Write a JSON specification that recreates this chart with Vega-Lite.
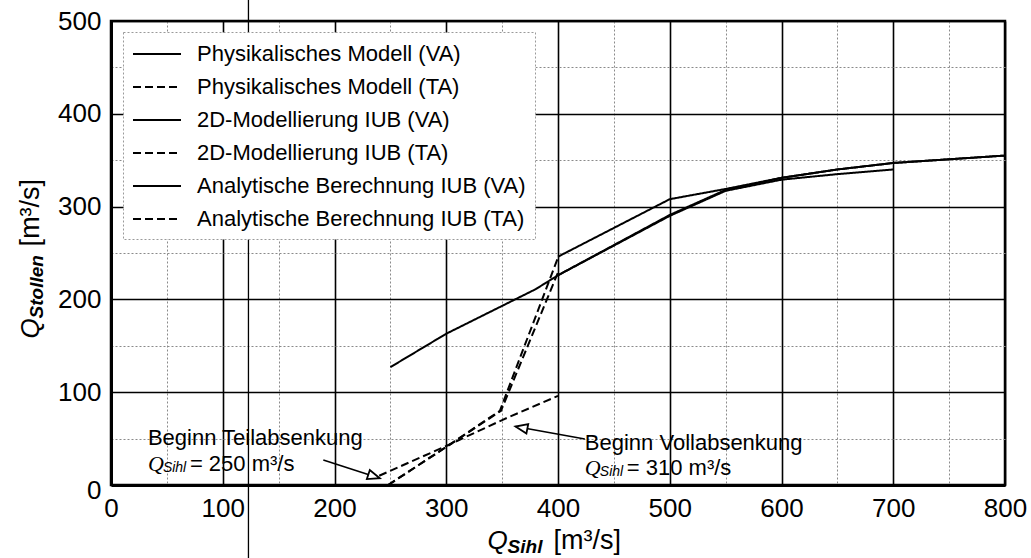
{
  "$schema": "https://vega.github.io/schema/vega-lite/v6.json",
  "width": 894,
  "height": 464,
  "autosize": "none",
  "padding": {"left": 111, "top": 21, "right": 26, "bottom": 73},
  "background": "white",
  "config": {
    "font": "Liberation Sans",
    "view": {"stroke": "black", "strokeWidth": 2.5},
    "axis": {
      "ticks": false,
      "domainColor": "black",
      "domainWidth": 3,
      "labelColor": "black",
      "labelFont": "Liberation Sans",
      "labelFontSize": 26,
      "labelOverlap": false,
      "labelFlush": false,
      "grid": true,
      "gridColor": {"condition": {"test": "datum.value % 100 === 0", "value": "#000000"}, "value": "#8a8a8a"},
      "gridDash": {"condition": {"test": "datum.value % 100 === 0", "value": [1, 0]}, "value": [2, 2]},
      "gridWidth": {"condition": {"test": "datum.value % 100 === 0", "value": 1.6}, "value": 1},
      "labelExpr": "datum.value % 100 === 0 ? datum.label : ''"
    }
  },
  "datasets": {
    "curves": [
      {"series": "Physikalisches Modell (VA)", "x": 250, "y": 127},
      {"series": "Physikalisches Modell (VA)", "x": 300, "y": 163},
      {"series": "Physikalisches Modell (VA)", "x": 350, "y": 193},
      {"series": "Physikalisches Modell (VA)", "x": 380, "y": 211},
      {"series": "Physikalisches Modell (VA)", "x": 400, "y": 226},
      {"series": "Physikalisches Modell (VA)", "x": 500, "y": 290},
      {"series": "Physikalisches Modell (VA)", "x": 550, "y": 317},
      {"series": "Physikalisches Modell (VA)", "x": 600, "y": 329},
      {"series": "Physikalisches Modell (VA)", "x": 650, "y": 335},
      {"series": "Physikalisches Modell (VA)", "x": 700, "y": 340},
      {"series": "Physikalisches Modell (TA)", "x": 248, "y": 0},
      {"series": "Physikalisches Modell (TA)", "x": 300, "y": 41},
      {"series": "Physikalisches Modell (TA)", "x": 349, "y": 80},
      {"series": "Physikalisches Modell (TA)", "x": 400, "y": 229},
      {"series": "2D-Modellierung IUB (VA)", "x": 400, "y": 226},
      {"series": "2D-Modellierung IUB (VA)", "x": 500, "y": 291},
      {"series": "2D-Modellierung IUB (VA)", "x": 550, "y": 318},
      {"series": "2D-Modellierung IUB (VA)", "x": 600, "y": 331},
      {"series": "2D-Modellierung IUB (VA)", "x": 650, "y": 340},
      {"series": "2D-Modellierung IUB (VA)", "x": 700, "y": 347},
      {"series": "2D-Modellierung IUB (VA)", "x": 750, "y": 351},
      {"series": "2D-Modellierung IUB (VA)", "x": 800, "y": 355},
      {"series": "2D-Modellierung IUB (TA)", "x": 248, "y": 0},
      {"series": "2D-Modellierung IUB (TA)", "x": 300, "y": 41},
      {"series": "2D-Modellierung IUB (TA)", "x": 348, "y": 80},
      {"series": "2D-Modellierung IUB (TA)", "x": 400, "y": 245},
      {"series": "Analytische Berechnung IUB (VA)", "x": 400, "y": 246},
      {"series": "Analytische Berechnung IUB (VA)", "x": 500, "y": 308},
      {"series": "Analytische Berechnung IUB (VA)", "x": 550, "y": 319},
      {"series": "Analytische Berechnung IUB (VA)", "x": 600, "y": 331},
      {"series": "Analytische Berechnung IUB (VA)", "x": 650, "y": 340},
      {"series": "Analytische Berechnung IUB (VA)", "x": 700, "y": 347},
      {"series": "Analytische Berechnung IUB (VA)", "x": 750, "y": 351},
      {"series": "Analytische Berechnung IUB (VA)", "x": 800, "y": 355},
      {"series": "Analytische Berechnung IUB (TA)", "x": 240, "y": 10},
      {"series": "Analytische Berechnung IUB (TA)", "x": 300, "y": 42},
      {"series": "Analytische Berechnung IUB (TA)", "x": 350, "y": 70},
      {"series": "Analytische Berechnung IUB (TA)", "x": 400, "y": 96}
    ],
    "notes": [
      {"kind": "main", "x": 33, "y": 50.6, "text": "Beginn Teilabsenkung"},
      {"kind": "q", "x": 33, "y": 22.6, "text": "Q"},
      {"kind": "sub", "x": 33, "y": 22.6, "text": "Sihl"},
      {"kind": "rest", "x": 33, "y": 22.6, "text": "= 250 m³/s"},
      {"kind": "main", "x": 424, "y": 45.3, "text": "Beginn Vollabsenkung"},
      {"kind": "q", "x": 424, "y": 18.3, "text": "Q"},
      {"kind": "sub", "x": 424, "y": 18.3, "text": "Sihl"},
      {"kind": "rest", "x": 424, "y": 18.3, "text": "= 310 m³/s"}
    ],
    "xtitle": [
      {"kind": "q", "x": 337, "y": -60, "text": "Q"},
      {"kind": "sub", "x": 337, "y": -60, "text": "Sihl"},
      {"kind": "rest", "x": 337, "y": -60, "text": "[m³/s]"}
    ],
    "ytitle": [
      {"kind": "q", "x": -72, "y": 158, "text": "Q"},
      {"kind": "sub", "x": -72, "y": 158, "text": "Stollen"},
      {"kind": "rest", "x": -72, "y": 158, "text": "[m³/s]"}
    ],
    "arrows": [
      {"arrow": "teil", "x": 190, "y": 27, "x2": 240.5, "y2": 7.3},
      {"arrow": "voll", "x": 424, "y": 49.6, "x2": 362, "y2": 63}
    ],
    "scanline": [
      {"x": 123, "y": -80, "y2": 525}
    ]
  },
  "layer": [
    {
      "data": {"name": "curves"},
      "mark": {"type": "line", "strokeWidth": 2, "clip": true},
      "encoding": {
        "x": {"field": "x", "type": "quantitative",
              "scale": {"domain": [0, 800], "nice": false, "zero": false},
              "axis": {"values": [0,50,100,150,200,250,300,350,400,450,500,550,600,650,700,750,800],
                       "title": null, "labelPadding": 10}},
        "y": {"field": "y", "type": "quantitative",
              "scale": {"domain": [0, 500], "nice": false, "zero": false},
              "axis": {"values": [0,50,100,150,200,250,300,350,400,450,500],
                       "title": null, "labelPadding": 10,
                       "labelOffset": {"condition": {"test": "datum.value === 0", "value": 5}, "value": 0}}},
        "color": {"field": "series", "type": "nominal",
                  "scale": {"domain": ["Physikalisches Modell (VA)", "Physikalisches Modell (TA)", "2D-Modellierung IUB (VA)", "2D-Modellierung IUB (TA)", "Analytische Berechnung IUB (VA)", "Analytische Berechnung IUB (TA)"],
                            "range": ["#000000", "#000000", "#000000", "#000000", "#000000", "#000000"]},
                  "legend": {"orient": "none", "legendX": 12, "legendY": 11, "title": null,
                             "fillColor": "white", "strokeColor": "#9a9a9a", "padding": 9,
                             "symbolType": "M-1,0H3", "symbolSize": 576, "symbolStrokeWidth": 2,
                             "labelFont": "Liberation Sans", "labelFontSize": 22, "labelColor": "black",
                             "labelOffset": 39, "rowPadding": 9, "labelLimit": 600,
                             "encode": {"legend": {"update": {"strokeDash": {"value": [2, 2]}}}}}},
        "strokeDash": {"field": "series", "type": "nominal",
                       "scale": {"domain": ["Physikalisches Modell (VA)", "Physikalisches Modell (TA)", "2D-Modellierung IUB (VA)", "2D-Modellierung IUB (TA)", "Analytische Berechnung IUB (VA)", "Analytische Berechnung IUB (TA)"],
                                 "range": [[1, 0], [8, 4], [1, 0], [8, 4], [1, 0], [8, 4]]},
                       "legend": {"orient": "none", "legendX": 12, "legendY": 11, "title": null,
                             "fillColor": "white", "strokeColor": "#9a9a9a", "padding": 9,
                             "symbolType": "M-1,0H3", "symbolSize": 576, "symbolStrokeWidth": 2,
                             "labelFont": "Liberation Sans", "labelFontSize": 22, "labelColor": "black",
                             "labelOffset": 39, "rowPadding": 9, "labelLimit": 600,
                             "encode": {"legend": {"update": {"strokeDash": {"value": [2, 2]}}}}}}
      }
    },
    {
      "data": {"name": "arrows"},
      "mark": {"type": "rule", "strokeWidth": 1.6, "color": "black"},
      "encoding": {
        "x": {"field": "x", "type": "quantitative"},
        "y": {"field": "y", "type": "quantitative"},
        "x2": {"field": "x2"},
        "y2": {"field": "y2"}
      }
    },
    {
      "data": {"name": "arrows"},
      "transform": [{"filter": "datum.arrow === 'teil'"}],
      "mark": {"type": "point", "shape": "M0,0L-2,-0.8L-2,0.8Z", "size": 144, "angle": 18, "filled": true, "fill": "white", "stroke": "black", "strokeWidth": 1.8, "opacity": 1},
      "encoding": {
        "x": {"field": "x2", "type": "quantitative"},
        "y": {"field": "y2", "type": "quantitative"}
      }
    },
    {
      "data": {"name": "arrows"},
      "transform": [{"filter": "datum.arrow === 'voll'"}],
      "mark": {"type": "point", "shape": "M0,0L-2,-0.8L-2,0.8Z", "size": 144, "angle": 191, "filled": true, "fill": "white", "stroke": "black", "strokeWidth": 1.8, "opacity": 1},
      "encoding": {
        "x": {"field": "x2", "type": "quantitative"},
        "y": {"field": "y2", "type": "quantitative"}
      }
    },
    {
      "data": {"name": "notes"},
      "transform": [{"filter": "datum.kind === 'main'"}],
      "mark": {"type": "text", "align": "left", "baseline": "middle", "font": "Liberation Sans", "fontSize": 22, "color": "black"},
      "encoding": {
        "x": {"field": "x", "type": "quantitative"},
        "y": {"field": "y", "type": "quantitative"},
        "text": {"field": "text"}
      }
    },
    {
      "data": {"name": "notes"},
      "transform": [{"filter": "datum.kind === 'q'"}],
      "mark": {"type": "text", "align": "left", "baseline": "middle", "font": "Liberation Serif", "fontStyle": "italic", "fontSize": 22, "color": "black"},
      "encoding": {
        "x": {"field": "x", "type": "quantitative"},
        "y": {"field": "y", "type": "quantitative"},
        "text": {"field": "text"}
      }
    },
    {
      "data": {"name": "notes"},
      "transform": [{"filter": "datum.kind === 'sub'"}],
      "mark": {"type": "text", "align": "left", "baseline": "middle", "dx": 15, "dy": 4, "font": "Liberation Sans", "fontStyle": "italic", "fontSize": 14, "color": "black"},
      "encoding": {
        "x": {"field": "x", "type": "quantitative"},
        "y": {"field": "y", "type": "quantitative"},
        "text": {"field": "text"}
      }
    },
    {
      "data": {"name": "notes"},
      "transform": [{"filter": "datum.kind === 'rest'"}],
      "mark": {"type": "text", "align": "left", "baseline": "middle", "dx": 42, "font": "Liberation Sans", "fontSize": 22, "color": "black"},
      "encoding": {
        "x": {"field": "x", "type": "quantitative"},
        "y": {"field": "y", "type": "quantitative"},
        "text": {"field": "text"}
      }
    },
    {
      "data": {"name": "xtitle"},
      "transform": [{"filter": "datum.kind === 'q'"}],
      "mark": {"type": "text", "align": "left", "baseline": "middle", "font": "Liberation Sans", "fontStyle": "italic", "fontSize": 26, "color": "black"},
      "encoding": {
        "x": {"field": "x", "type": "quantitative"},
        "y": {"field": "y", "type": "quantitative"},
        "text": {"field": "text"}
      }
    },
    {
      "data": {"name": "xtitle"},
      "transform": [{"filter": "datum.kind === 'sub'"}],
      "mark": {"type": "text", "align": "left", "baseline": "middle", "dx": 20, "dy": 6, "font": "Liberation Sans", "fontStyle": "italic", "fontWeight": "bold", "fontSize": 19, "color": "black"},
      "encoding": {
        "x": {"field": "x", "type": "quantitative"},
        "y": {"field": "y", "type": "quantitative"},
        "text": {"field": "text"}
      }
    },
    {
      "data": {"name": "xtitle"},
      "transform": [{"filter": "datum.kind === 'rest'"}],
      "mark": {"type": "text", "align": "left", "baseline": "middle", "dx": 66, "font": "Liberation Sans", "fontSize": 27, "color": "black"},
      "encoding": {
        "x": {"field": "x", "type": "quantitative"},
        "y": {"field": "y", "type": "quantitative"},
        "text": {"field": "text"}
      }
    },
    {
      "data": {"name": "ytitle"},
      "transform": [{"filter": "datum.kind === 'q'"}],
      "mark": {"type": "text", "align": "left", "baseline": "middle", "angle": 270, "font": "Liberation Sans", "fontStyle": "italic", "fontSize": 26, "color": "black"},
      "encoding": {
        "x": {"field": "x", "type": "quantitative"},
        "y": {"field": "y", "type": "quantitative"},
        "text": {"field": "text"}
      }
    },
    {
      "data": {"name": "ytitle"},
      "transform": [{"filter": "datum.kind === 'sub'"}],
      "mark": {"type": "text", "align": "left", "baseline": "middle", "angle": 270, "dx": 20, "dy": 6, "font": "Liberation Sans", "fontStyle": "italic", "fontWeight": "bold", "fontSize": 19, "color": "black"},
      "encoding": {
        "x": {"field": "x", "type": "quantitative"},
        "y": {"field": "y", "type": "quantitative"},
        "text": {"field": "text"}
      }
    },
    {
      "data": {"name": "ytitle"},
      "transform": [{"filter": "datum.kind === 'rest'"}],
      "mark": {"type": "text", "align": "left", "baseline": "middle", "angle": 270, "dx": 92, "font": "Liberation Sans", "fontSize": 27, "color": "black"},
      "encoding": {
        "x": {"field": "x", "type": "quantitative"},
        "y": {"field": "y", "type": "quantitative"},
        "text": {"field": "text"}
      }
    },
    {
      "data": {"name": "scanline"},
      "mark": {"type": "rule", "strokeWidth": 1.3, "color": "black"},
      "encoding": {
        "x": {"field": "x", "type": "quantitative"},
        "y": {"field": "y", "type": "quantitative"},
        "y2": {"field": "y2"}
      }
    }
  ]
}
